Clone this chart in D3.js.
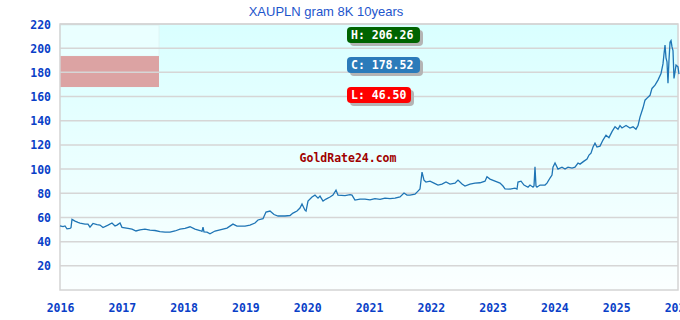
<!DOCTYPE html>
<html>
<head>
<meta charset="utf-8">
<script src="https://cdn.jsdelivr.net/npm/d3@7"></script>
<style>
  body { margin: 0; background: #fff; }
  svg { display: block; }
</style>
</head>
<body>
<svg width="680" height="320"></svg>
<script>
const width = 680, height = 320

// price of 8K gold per gram in PLN (decimal years)
const years = [
  2016.000, 2016.049, 2016.081, 2016.113, 2016.162, 2016.178, 2016.194, 2016.243, 2016.291, 2016.324,
  2016.405, 2016.453, 2016.485, 2016.534, 2016.599, 2016.647, 2016.696, 2016.777, 2016.841, 2016.890,
  2016.922, 2016.971, 2017.003, 2017.100, 2017.165, 2017.230, 2017.294, 2017.375, 2017.456, 2017.537,
  2017.618, 2017.699, 2017.780, 2017.861, 2017.942, 2018.023, 2018.104, 2018.184, 2018.265, 2018.298,
  2018.314, 2018.330, 2018.379, 2018.427, 2018.508, 2018.589, 2018.702, 2018.799, 2018.864, 2018.994,
  2019.074, 2019.155, 2019.204, 2019.285, 2019.333, 2019.398, 2019.463, 2019.528, 2019.641, 2019.722,
  2019.770, 2019.835, 2019.883, 2019.916, 2019.964, 2019.981, 2020.013, 2020.078, 2020.126, 2020.175,
  2020.207, 2020.256, 2020.304, 2020.369, 2020.417, 2020.466, 2020.498, 2020.612, 2020.693, 2020.725,
  2020.773, 2020.854, 2020.935, 2021.016, 2021.097, 2021.178, 2021.259, 2021.340, 2021.421, 2021.502,
  2021.566, 2021.615, 2021.663, 2021.744, 2021.793, 2021.825, 2021.858, 2021.890, 2021.922, 2021.987,
  2022.052, 2022.117, 2022.181, 2022.246, 2022.311, 2022.392, 2022.440, 2022.505, 2022.553, 2022.634,
  2022.715, 2022.796, 2022.877, 2022.909, 2022.958, 2023.039, 2023.120, 2023.168, 2023.201, 2023.282,
  2023.362, 2023.395, 2023.411, 2023.460, 2023.508, 2023.573, 2023.605, 2023.654, 2023.670, 2023.686,
  2023.702, 2023.718, 2023.767, 2023.848, 2023.880, 2023.929, 2023.961, 2023.977, 2024.010, 2024.058,
  2024.123, 2024.172, 2024.220, 2024.285, 2024.333, 2024.382, 2024.414, 2024.479, 2024.528, 2024.560,
  2024.592, 2024.625, 2024.657, 2024.689, 2024.738, 2024.786, 2024.835, 2024.883, 2024.932, 2024.981,
  2025.029, 2025.061, 2025.094, 2025.159, 2025.223, 2025.272, 2025.320, 2025.353, 2025.385, 2025.434,
  2025.466, 2025.515, 2025.547, 2025.579, 2025.628, 2025.676, 2025.725, 2025.757, 2025.773, 2025.790,
  2025.806, 2025.822, 2025.838, 2025.854, 2025.871, 2025.887, 2025.903, 2025.919, 2025.935, 2025.951,
  2025.968, 2026.000, 2026.016
]
const prices = [
  53.0, 52.5, 53.0, 50.6, 51.0, 51.5, 58.4, 57.0, 56.0, 55.4,
  54.5, 54.5, 52.0, 55.0, 54.0, 53.7, 51.7, 53.7, 55.4, 53.0,
  53.7, 55.4, 51.8, 51.0, 50.4, 48.8, 49.8, 50.4, 49.6, 49.2,
  48.3, 47.9, 47.9, 48.8, 50.4, 51.0, 52.3, 50.4, 49.2, 48.5,
  52.0, 48.0, 47.9, 46.5, 48.8, 49.8, 51.2, 54.5, 52.9, 52.9,
  53.7, 55.4, 57.9, 59.0, 64.5, 65.3, 62.4, 61.2, 61.2, 61.6,
  63.6, 65.3, 67.8, 71.1, 66.0, 65.3, 73.6, 76.9, 78.5, 76.0,
  77.7, 73.6, 75.2, 76.9, 78.5, 82.6, 78.5, 78.0, 78.9, 78.5,
  74.4, 75.2, 75.2, 74.5, 75.6, 75.0, 76.0, 75.5, 76.0, 77.0,
  80.2, 78.5, 78.5, 79.3, 81.8, 83.5, 97.5, 90.9, 89.3, 90.0,
  88.4, 86.8, 87.6, 89.3, 87.6, 88.4, 90.9, 87.6, 86.0, 87.6,
  88.4, 88.7, 90.0, 93.6, 91.7, 90.0, 88.4, 86.0, 83.7, 83.5,
  84.3, 83.5, 89.3, 90.0, 86.8, 85.0, 86.8, 85.0, 86.0, 102.0,
  86.0, 85.0, 86.8, 86.8, 88.4, 92.6, 95.0, 101.6, 105.0, 100.0,
  101.6, 100.0, 101.6, 100.8, 101.6, 105.0, 104.1, 106.6, 108.3, 111.6,
  113.2, 118.2, 121.5, 118.2, 119.0, 124.0, 128.0, 126.0, 131.0, 135.0,
  133.0, 136.0, 134.0, 136.0, 134.0, 135.0, 133.0, 136.0, 143.0, 150.7,
  157.0, 159.5, 161.0, 166.7, 169.4, 173.6, 179.0, 187.0, 195.0, 202.5,
  192.0, 188.7, 171.0, 190.0, 205.0, 206.26, 201.0, 198.0, 175.0, 180.0,
  186.0, 184.5, 178.52
]

const yTicks = [20, 40, 60, 80, 100, 120, 140, 160, 180, 200, 220]
const xTicks = [2016, 2017, 2018, 2019, 2020, 2021, 2022, 2023, 2024, 2025, 2026]

const badgeLabels = ['H', 'C', 'L']
const badgeValues = [206.26, 178.52, 46.50]

const data = years.map((yr, i) => ({ yr: yr, v: prices[i] }))

const margin = { left: 60, right: 2, top: 24, bottom: 30 }
const x = d3.scaleLinear().domain([2016, 2026]).range([margin.left, width - margin.right])
const y = d3.scaleLinear().domain([0, 220]).range([height - margin.bottom, margin.top])

const svg = d3.select('svg')
const mono = '"DejaVu Sans Mono", monospace'
const tickBlue = '#0a3fc8'

// plot background: light cyan fading to white
const defs = svg.append('defs')
const grad = defs.append('linearGradient')
    .attr('id', 'bg')
    .attr('x1', 0).attr('y1', 0).attr('x2', 0).attr('y2', 1)
grad.append('stop').attr('offset', '0%').attr('stop-color', '#d9ffff')
grad.append('stop').attr('offset', '100%').attr('stop-color', '#fbffff')

svg.append('rect')
    .attr('x', x(2016))
    .attr('y', y(220))
    .attr('width', x(2026) - x(2016))
    .attr('height', y(0) - y(220))
    .attr('fill', 'url(#bg)')

// leftover legend boxes, top left
svg.append('rect')
    .attr('x', x(2016)).attr('y', y(219))
    .attr('width', 99).attr('height', 31)
    .attr('fill', '#eaffff')
    .attr('stroke', '#e0f4f4')
svg.append('rect')
    .attr('x', x(2016)).attr('y', y(193.5))
    .attr('width', 99).attr('height', 31)
    .attr('fill', '#dca3a3')

// grid lines
svg.append('g')
    .selectAll('line')
    .data(yTicks)
    .enter()
    .append('line')
    .attr('x1', x(2016)).attr('x2', x(2026))
    .attr('y1', d => y(d)).attr('y2', d => y(d))
    .attr('stroke', '#d6d6d6')
    .attr('stroke-width', 1.5)

// frame
svg.append('rect')
    .attr('x', x(2016)).attr('y', y(220))
    .attr('width', x(2026) - x(2016))
    .attr('height', y(0) - y(220))
    .attr('fill', 'none')
    .attr('stroke', '#d4d4d4')
    .attr('stroke-width', 1.5)

// y axis
const yAxis = svg.append('g')
    .attr('transform', `translate(${x(2016)},0)`)
    .call(d3.axisLeft(y).tickValues(yTicks).tickSize(0).tickPadding(9))
yAxis.select('.domain').remove()
yAxis.selectAll('text')
    .attr('dy', '0.35em')
    .style('font-family', mono)
    .style('font-size', '11.5px')
    .style('font-weight', 'bold')
    .attr('fill', tickBlue)

// x axis
const xAxis = svg.append('g')
    .attr('transform', `translate(0,${y(0)})`)
    .call(d3.axisBottom(x).tickValues(xTicks).tickFormat(d3.format('d')).tickSize(0).tickPadding(14))
xAxis.select('.domain').remove()
xAxis.selectAll('text')
    .style('font-family', mono)
    .style('font-size', '11.5px')
    .style('font-weight', 'bold')
    .attr('fill', tickBlue)

// watermark
svg.append('text')
    .attr('x', 348)
    .attr('y', y(105.5))
    .style('text-anchor', 'middle')
    .style('font-family', mono)
    .style('font-size', '11.5px')
    .style('font-weight', 'bold')
    .attr('fill', '#a00000')
    .text('GoldRate24.com')

// price line
const line = d3.line()
    .x(d => x(d.yr))
    .y(d => y(d.v))
svg.append('path')
    .datum(data)
    .attr('d', line)
    .attr('fill', 'none')
    .attr('stroke', '#1f75b5')
    .attr('stroke-width', 1.3)

// title
svg.append('text')
    .attr('x', 326)
    .attr('y', 16)
    .style('text-anchor', 'middle')
    .style('font-family', '"Liberation Sans", Arial, sans-serif')
    .style('font-size', '13px')
    .attr('fill', '#1d55cc')
    .text('XAUPLN gram 8K 10years')

// high / close / low badges
const badgeColors = ['#006400', '#2b7bba', '#ff0000']
const badgeWidths = [73, 73, 64]
const badges = svg.append('g')
    .selectAll('g')
    .data(badgeLabels)
    .enter()
    .append('g')
    .attr('transform', (d, i) => `translate(347, ${27 + i * 30})`)

badges.append('rect')
    .attr('x', 3).attr('y', 3)
    .attr('width', (d, i) => badgeWidths[i])
    .attr('height', 16)
    .attr('rx', 4)
    .attr('fill', '#b4b4b4')
badges.append('rect')
    .attr('width', (d, i) => badgeWidths[i])
    .attr('height', 16)
    .attr('rx', 4)
    .attr('fill', (d, i) => badgeColors[i])
badges.append('text')
    .attr('x', 4)
    .attr('y', 12)
    .style('font-family', mono)
    .style('font-size', '11.5px')
    .style('font-weight', 'bold')
    .attr('fill', '#fff')
    .text((d, i) => `${d}: ${badgeValues[i].toFixed(2)}`)
</script>
</body>
</html>
